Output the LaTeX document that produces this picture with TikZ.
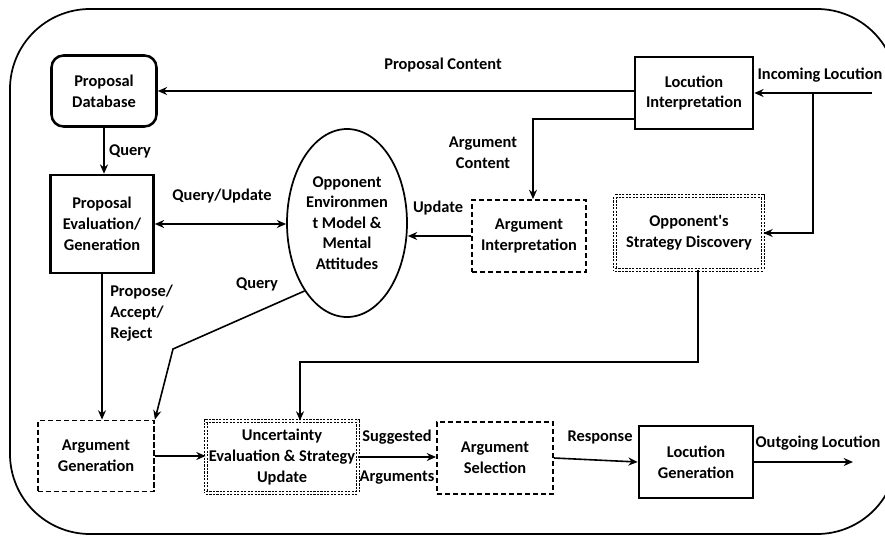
\documentclass[tikz,border=0pt]{standalone}
\usepackage{fontspec}
\setmainfont{Carlito}
\usetikzlibrary{arrows.meta,shapes.geometric}
\def\pxu{0.75pt}
\begin{document}
\begin{tikzpicture}[x=0.75pt,y=-0.75pt,
  font=\fontsize{12.3}{15.6}\selectfont\bfseries,
  box/.style={draw,align=center,inner sep=1pt},
  solidbox/.style={box,line width=1.9pt},
  dashbox/.style={box,line width=1.4pt,dash pattern=on 4pt off 2pt},
  dotbox/.style={box,line width=0.6pt,double,double distance=1.1pt,dash pattern=on 1.6pt off 1pt},
  arr/.style={line width=1.2pt,-{Stealth[length=7pt,width=6pt]}},
  arrboth/.style={line width=1.2pt,{Stealth[length=7pt,width=6pt]}-{Stealth[length=7pt,width=6pt]}},
  lbl/.style={inner sep=0pt,align=center},
  frame/.style={line width=1.3pt,rounded corners=60pt}]
\useasboundingbox (0,0) rectangle (885,536);
\begin{scope}
\clip (0,0) rectangle (885,536);
\draw[frame] (10,9) rectangle (897,534);
\end{scope}

% boxes
\node[solidbox,rounded corners=9pt,minimum width=105*\pxu,minimum height=71*\pxu] (PD) at (104,91) {Proposal\\Database};
\node[solidbox,minimum width=103*\pxu,minimum height=98*\pxu] (PE) at (102,224) {Proposal\\Evaluation/\\Generation};
\node[draw,ellipse,line width=1.3pt,align=center,inner sep=0pt,minimum width=120*\pxu,minimum height=188*\pxu,font=\fontsize{12.3}{15.3}\selectfont\bfseries] (OE) at (347,223) {Opponent\\Environmen\\t Model \&\\Mental\\Attitudes};
\node[solidbox,minimum width=118*\pxu,minimum height=72*\pxu] (LI) at (694,93) {Locution\\Interpretation};
\node[dashbox,minimum width=114*\pxu,minimum height=72*\pxu] (AI) at (529,236) {Argument\\Interpretation};
\node[dotbox,minimum width=148*\pxu,minimum height=74*\pxu] (OSD) at (689,233) {Opponent\textquotesingle s\\Strategy Discovery};
\node[dashbox,minimum width=116*\pxu,minimum height=71*\pxu] (AG) at (96,456) {Argument\\Generation};
\node[dotbox,minimum width=152*\pxu,minimum height=72*\pxu] (UE) at (282,457) {Uncertainty\\Evaluation \& Strategy\\Update};
\node[dashbox,minimum width=116*\pxu,minimum height=72*\pxu] (AS) at (495,458) {Argument\\Selection};
\node[solidbox,minimum width=114*\pxu,minimum height=72*\pxu] (LG) at (696,462) {Locution\\Generation};

% free ends and bends
\coordinate (inc) at (872,93);
\coordinate (br) at (813,93);
\coordinate (qbend) at (173,349);
\coordinate (j1) at (698,362);
\coordinate (j2) at (300,362);
\coordinate (outg) at (853,462);

% connectors
\draw[arr] ([yshift=2*\pxu]LI.west) -- ([yshift=2*\pxu]LI.west -| PD.east);
\draw[arr] ([yshift=-26*\pxu]LI.west) -| ([xshift=4*\pxu]AI.north);
\draw[arr] (inc) -- (LI.east);
\draw[arr] (br) |- (OSD.east);
\draw[arr] (PD.south) -- (PD.south |- PE.north);
\draw[arrboth] (PE.east) -- (PE.east -| OE.west);
\draw[arr] (AI.west) -- (AI.west -| OE.east);
\draw[arr] (PE.south) -- (PE.south |- AG.north);
\draw[arr] (OE.238) -- (qbend) -- (AG.north east);
\draw[arr] (OSD.south -| j1) -- (j1) -- (j2) -- (j2 |- UE.north);
\draw[arr] (AG.east) -- (AG.east -| UE.west);
\draw[arr] (UE.east) -- (UE.east -| AS.west);
\draw[arr] (AS.east) -- (LG.west);
\draw[arr] (LG.east) -- (outg);

% labels
\node[lbl] (lpc) at (443,65) {Proposal Content};
\node[lbl] (linc) at (820,75) {Incoming Locution};
\node[lbl] (lac) at (483,153) {Argument\\Content};
\node[lbl] (lq1) at (130,151) {Query};
\node[lbl] (lqu) at (222,196) {Query/Update};
\node[lbl] (lup) at (438,208) {Update};
\node[lbl] (lq2) at (257,284) {Query};
\node[lbl,align=left,anchor=west] (lpar) at (110,313) {Propose/\\Accept/\\Reject};
\node[lbl] (lsug) at (397,437) {Suggested};
\node[lbl] (larg) at (397,478) {Arguments};
\node[lbl] (lresp) at (600,437) {Response};
\node[lbl] (lout) at (818,443) {Outgoing Locution};
\end{tikzpicture}
\end{document}
